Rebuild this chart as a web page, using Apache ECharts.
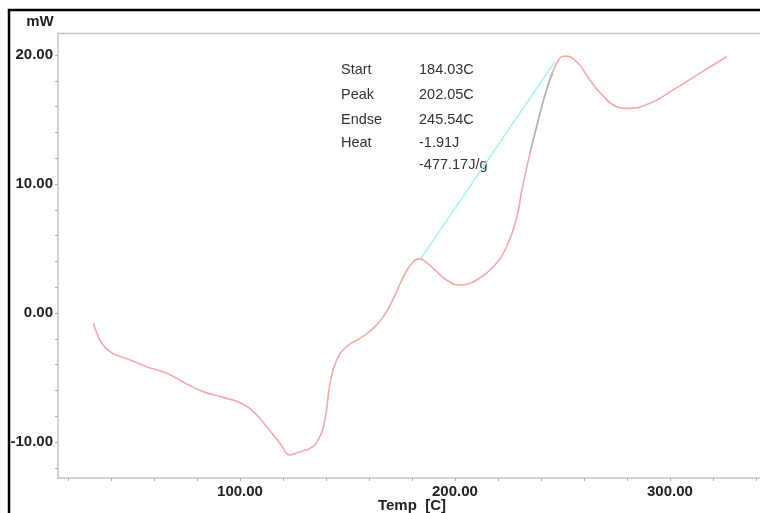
<!DOCTYPE html>
<html>
<head>
<meta charset="utf-8">
<script src="https://cdn.jsdelivr.net/npm/echarts@6/dist/echarts.min.js"></script>
<style>
  html, body { margin: 0; padding: 0; background: #fff; }
  #chart { width: 760px; height: 513px; }
</style>
</head>
<body>
<div id="chart"></div>
<script>
// DSC trace: heat flow (mW) against temperature (C)
const tempC = [31.8, 33.5, 35.7, 39.5, 44, 48.8, 56.6, 65.9, 75.2, 83.0, 92.2, 100, 106.2, 112.4,
  118.6, 123.3, 125.5, 127.9, 132.6, 136.4, 139.5, 141.9, 145.0, 149.6, 155.8, 162.0, 166.7,
  171.3, 176.0, 180.6, 183.7, 186.5, 189.9, 196.1, 202.3, 206, 210.1, 217.8, 224.0, 228.7, 231.0,
  234.9, 238.8, 242.6, 247.3, 251.2, 256.6, 262.8, 268, 275.2, 279.9, 290.7, 301.5, 314, 326.4];
const heatFlowMW = [-0.8, -1.6, -2.35, -3.0, -3.35, -3.64, -4.16, -4.67, -5.5, -6.1, -6.54, -6.95, -7.65, -8.81,
  -10.1, -11.0, -10.9, -10.75, -10.49, -9.84, -8.29, -5.45, -3.64, -2.61, -1.96, -1.19, -0.28,
  1.1, 2.81, 3.98, 4.2, 3.95, 3.46, 2.56, 2.17, 2.25, 2.56, 3.59, 5.14, 7.4, 9.4,
  12.4, 14.96, 17.3, 19.36, 19.92, 19.48, 18.06, 17.0, 16.0, 15.87, 16.26, 17.3, 18.6, 19.87];

// Peak baseline (onset to end) and the tangent on the rising edge
const baselineTemp = [184.03, 246.5];
const baselineMW = [4.2, 19.5];
const tangentTemp = [234.9, 238.8, 242.6, 245.5];
const tangentMW = [12.4, 14.96, 17.3, 18.6];

// Tick positions and labels
const xLabelValues = [100, 200, 300];
const xTickValues = [20, 40, 60, 80, 100, 120, 140, 160, 180, 200, 220, 240, 260, 280, 300, 320, 340];
const yLabelValues = [-10, 0, 10, 20];
const yTickValues = [-12, -10, -8, -6, -4, -2, 0, 2, 4, 6, 8, 10, 12, 14, 16, 18, 20];

// Peak analysis readout
const resultNames = ['Start', 'Peak', 'Endse', 'Heat', ''];
const resultValues = ['184.03C', '202.05C', '245.54C', '-1.91J', '-477.17J/g'];
const resultRowY = [70, 95, 120, 143, 165];

const FONT = '"Liberation Sans", Arial, sans-serif';
const AXIS_GRAY = '#c4c4c4';

const pairs = (xs, ys) => xs.map((x, i) => [x, ys[i]]);

const graphics = [
  { type: 'rect', shape: { x: 9, y: 10, width: 800, height: 600 },
    style: { fill: 'none', stroke: '#000', lineWidth: 2.5 }, z: 10 },
  { type: 'line', shape: { x1: 58, y1: 33.5, x2: 760, y2: 33.5 },
    style: { stroke: AXIS_GRAY, lineWidth: 1.5 } },
  { type: 'text', x: 40, y: 22,
    style: { text: 'mW', font: 'bold 15px ' + FONT, fill: '#222', align: 'center', verticalAlign: 'middle' } },
  { type: 'text', x: 412, y: 506,
    style: { text: 'Temp  [C]', font: 'bold 15px ' + FONT, fill: '#222', align: 'center', verticalAlign: 'middle' } }
];
resultNames.forEach((name, i) => {
  if (name) {
    graphics.push({ type: 'text', x: 341, y: resultRowY[i],
      style: { text: name, font: '14.5px ' + FONT, fill: '#333', verticalAlign: 'middle' } });
  }
  graphics.push({ type: 'text', x: 419, y: resultRowY[i],
    style: { text: resultValues[i], font: '14.5px ' + FONT, fill: '#333', verticalAlign: 'middle' } });
});

const chart = echarts.init(document.getElementById('chart'), null, { renderer: 'canvas' });
chart.setOption({
  animation: false,
  backgroundColor: '#fff',
  grid: { left: 58, right: 0, top: 33, bottom: 35 },
  xAxis: {
    type: 'value', min: 15.35, max: 341.9,
    axisLine: { onZero: false, lineStyle: { color: AXIS_GRAY, width: 1.5 } },
    axisTick: { customValues: xTickValues, length: 3, lineStyle: { color: '#aaa' } },
    axisLabel: {
      customValues: xLabelValues, margin: 6,
      formatter: v => v.toFixed(2),
      fontFamily: FONT, fontSize: 15, fontWeight: 'bold', color: '#222'
    },
    splitLine: { show: false }
  },
  yAxis: {
    type: 'value', min: -12.79, max: 21.71,
    axisLine: { show: true, onZero: false, lineStyle: { color: AXIS_GRAY, width: 1.5 } },
    axisTick: { show: true, customValues: yTickValues, length: 3, lineStyle: { color: '#aaa' } },
    axisLabel: {
      customValues: yLabelValues, margin: 5,
      formatter: v => v.toFixed(2),
      fontFamily: FONT, fontSize: 15, fontWeight: 'bold', color: '#222'
    },
    splitLine: { show: false }
  },
  series: [
    {
      type: 'line', data: pairs(baselineTemp, baselineMW), symbol: 'none',
      lineStyle: { color: '#a6f4f4', width: 1.5 }, z: 2
    },
    {
      type: 'line', data: pairs(tempC, heatFlowMW), symbol: 'none',
      smooth: 0.5,
      lineStyle: { color: '#f6a9a9', width: 1.6 }, z: 3
    },
    {
      type: 'line', data: pairs(tangentTemp, tangentMW), symbol: 'none',
      smooth: 0.5,
      lineStyle: { color: '#b0b0b0', width: 1.3 }, z: 4
    }
  ],
  graphic: graphics
});
</script>
</body>
</html>
